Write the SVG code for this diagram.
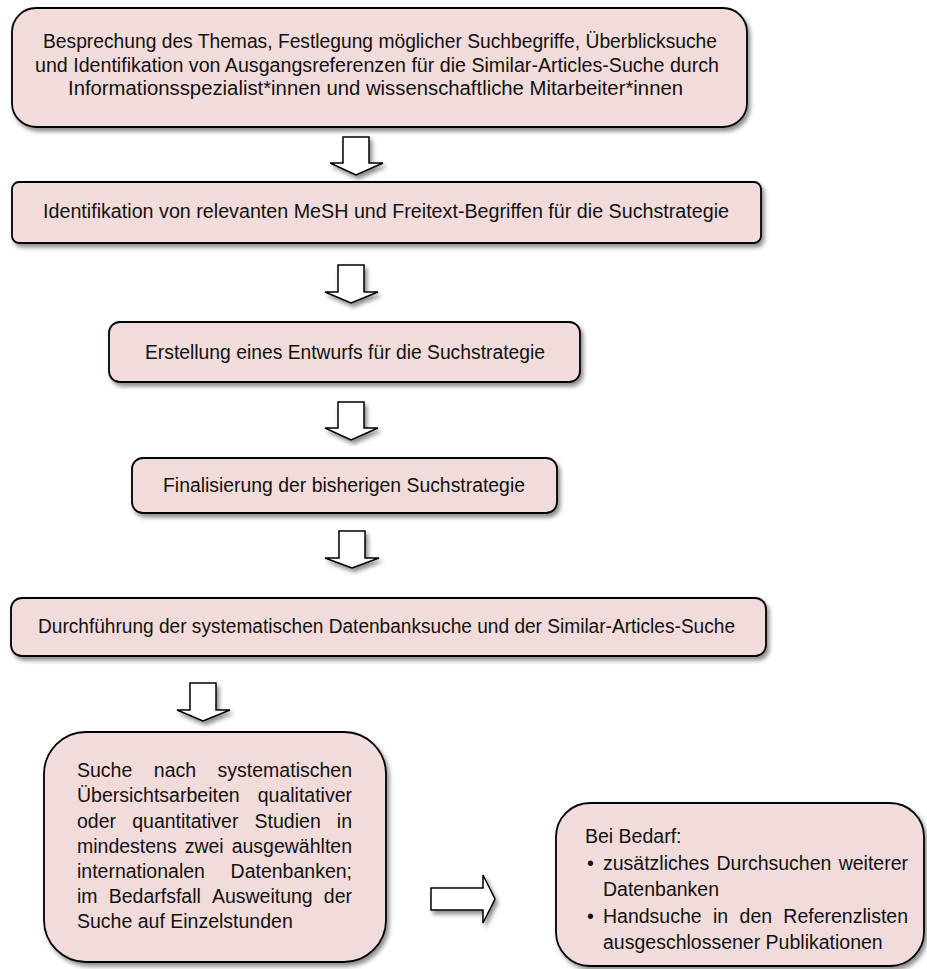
<svg xmlns="http://www.w3.org/2000/svg" width="927" height="969" viewBox="0 0 927 969">
  <defs>
    <filter id="shadow" x="-10%" y="-10%" width="130%" height="140%">
      <feDropShadow dx="2.5" dy="3.5" stdDeviation="2.2" flood-color="#000" flood-opacity="0.45"/>
    </filter>
  </defs>
  <style>
    .box { fill: #F2DCDB; stroke: #000; stroke-width: 1.8; filter: url(#shadow); }
    .arrow { fill: #fff; stroke: #000; stroke-width: 1.5; stroke-linejoin: miter; filter: url(#shadow); }
    .t { font-family: "Liberation Sans", Arial, sans-serif; font-size: 19.5px; fill: #111; }
    .c { text-anchor: middle; }
    .e { text-anchor: end; }
  </style>
  <rect width="927" height="969" fill="#fff"/>

  <!-- process steps -->
  <g id="step1">
    <rect class="box" x="12" y="8" width="735" height="119" rx="24" ry="24"/>
    <text class="t c" x="380" y="48" textLength="674" lengthAdjust="spacingAndGlyphs">Besprechung des Themas, Festlegung möglicher Suchbegriffe, Überblicksuche</text>
    <text class="t c" x="377" y="71.5" textLength="684" lengthAdjust="spacingAndGlyphs">und Identifikation von Ausgangsreferenzen für die Similar-Articles-Suche durch</text>
    <text class="t c" x="375.5" y="95" textLength="615" lengthAdjust="spacingAndGlyphs">Informationsspezialist*innen und wissenschaftliche Mitarbeiter*innen</text>
  </g>

  <g id="step2">
    <rect class="box" x="12" y="182" width="749" height="61" rx="7" ry="7"/>
    <text class="t" x="43" y="218" textLength="686" lengthAdjust="spacingAndGlyphs">Identifikation von relevanten MeSH und Freitext-Begriffen für die Suchstrategie</text>
  </g>

  <g id="step3">
    <rect class="box" x="109" y="322" width="471" height="60" rx="11" ry="11"/>
    <text class="t" x="145" y="359" textLength="400" lengthAdjust="spacingAndGlyphs">Erstellung eines Entwurfs für die Suchstrategie</text>
  </g>

  <g id="step4">
    <rect class="box" x="132" y="458" width="425" height="55" rx="11" ry="11"/>
    <text class="t" x="163" y="492" textLength="362" lengthAdjust="spacingAndGlyphs">Finalisierung der bisherigen Suchstrategie</text>
  </g>

  <g id="step5">
    <rect class="box" x="11" y="598" width="755" height="58" rx="11" ry="11"/>
    <text class="t" x="38" y="633" textLength="697" lengthAdjust="spacingAndGlyphs">Durchführung der systematischen Datenbanksuche und der Similar-Articles-Suche</text>
  </g>

  <!-- justified paragraph: words placed individually between x=77 and x=352 -->
  <g id="step6">
    <rect class="box" x="44" y="732" width="342" height="230" rx="42" ry="42"/>
    <g class="t">
      <text x="77" y="777">Suche</text>
      <text x="153.8" y="777">nach</text>
      <text class="e" x="352" y="777">systematischen</text>

      <text x="77" y="802">Übersichtsarbeiten</text>
      <text class="e" x="352" y="802">qualitativer</text>

      <text x="77" y="827.5">oder</text>
      <text x="132.2" y="827.5">quantitativer</text>
      <text x="254.6" y="827.5">Studien</text>
      <text class="e" x="352" y="827.5">in</text>

      <text x="77" y="853">mindestens</text>
      <text x="184.7" y="853">zwei</text>
      <text class="e" x="352" y="853">ausgewählten</text>

      <text x="77" y="878">internationalen</text>
      <text class="e" x="352" y="878">Datenbanken;</text>

      <text x="77" y="903">im</text>
      <text x="108.7" y="903">Bedarfsfall</text>
      <text x="211.9" y="903">Ausweitung</text>
      <text class="e" x="352" y="903">der</text>

      <text x="77" y="928">Suche auf Einzelstunden</text>
    </g>
  </g>

  <g id="optional">
    <rect class="box" x="556" y="803" width="368" height="163" rx="34" ry="34"/>
    <g class="t">
      <text x="585" y="843">Bei Bedarf:</text>

      <text x="587" y="870">•</text>
      <text x="603" y="870">zusätzliches</text>
      <text x="716.5" y="870">Durchsuchen</text>
      <text class="e" x="908" y="870">weiterer</text>
      <text x="603" y="896">Datenbanken</text>

      <text x="587" y="923">•</text>
      <text x="603" y="923">Handsuche</text>
      <text x="713" y="923">in</text>
      <text x="739.6" y="923">den</text>
      <text class="e" x="908" y="923">Referenzlisten</text>
      <text x="603" y="949">ausgeschlossener Publikationen</text>
    </g>
  </g>

  <!-- block arrows between the steps -->
  <g id="connectors">
    <polygon class="arrow" points="343,137 369,137 369,163 383,163 356,175 330,163 343,163"/>
    <polygon class="arrow" points="338,265 364,265 364,292 378,292 351,303 325,292 338,292"/>
    <polygon class="arrow" points="338,402 364,402 364,428 378,428 351,440 325,428 338,428"/>
    <polygon class="arrow" points="339,531 365,531 365,558 379,558 352,568 325,558 339,558"/>
    <polygon class="arrow" points="190,683 216,683 216,710 230,710 203,721 177,710 190,710"/>
    <polygon class="arrow" points="431,888 483,888 483,875 495,899 483,923 483,910 431,910"/>
  </g>
</svg>
